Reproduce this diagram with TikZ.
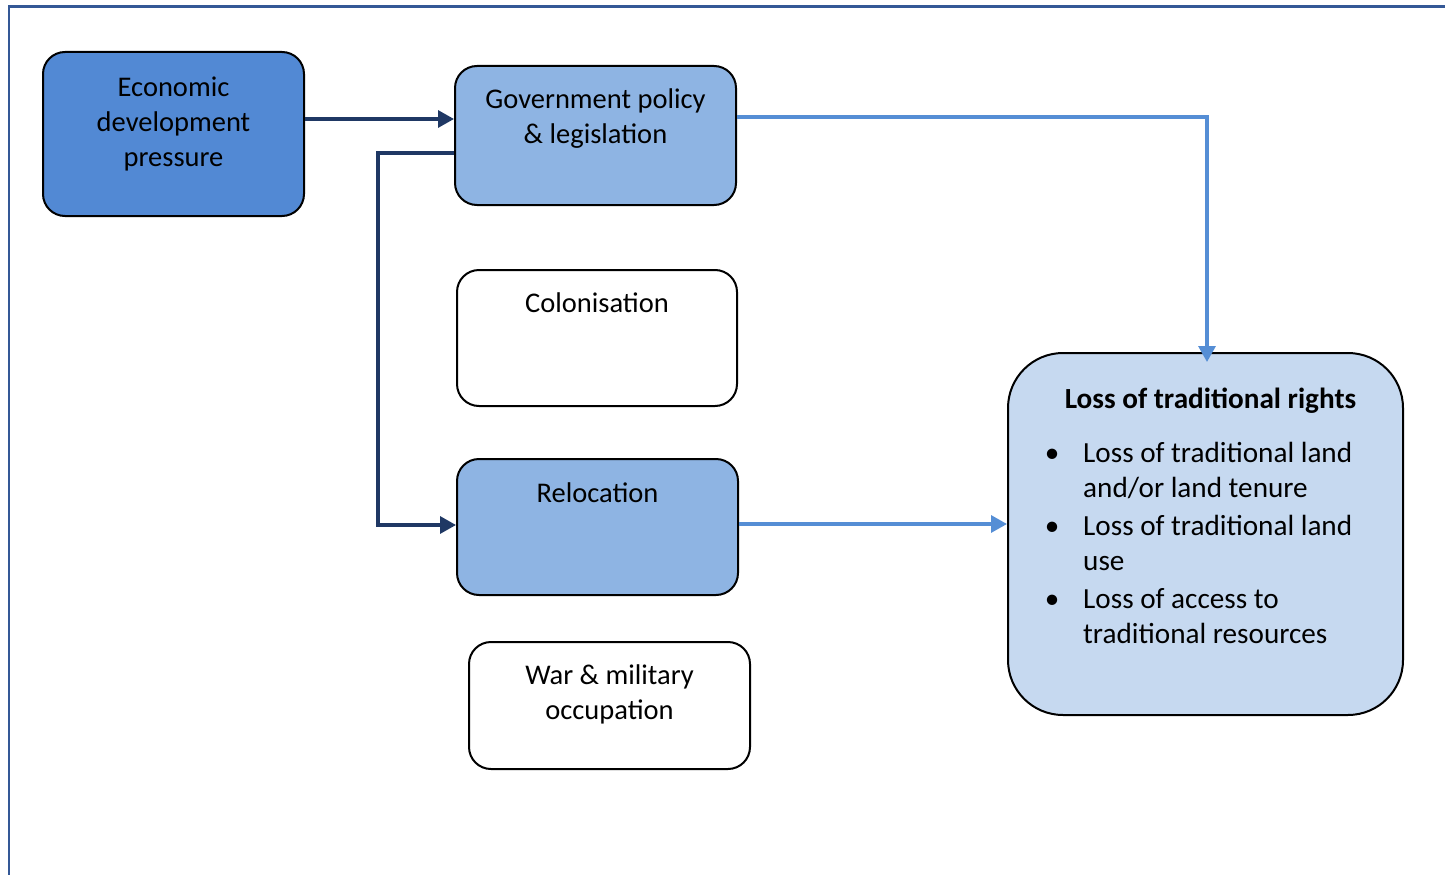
\documentclass[tikz,border=0pt]{standalone}
\usepackage{fontspec}
\setmainfont{Carlito}
\usetikzlibrary{arrows.meta}

\definecolor{framecol}{RGB}{52,88,150}
\definecolor{navy}{RGB}{31,56,100}
\definecolor{linkblue}{RGB}{85,142,213}
\definecolor{darkfill}{RGB}{82,137,212}
\definecolor{midfill}{RGB}{142,180,227}
\definecolor{lightfill}{RGB}{198,217,240}

\tikzset{
  box/.style={draw=black, line width=2pt, rounded corners=22pt, inner sep=0pt},
  boxtext/.style={anchor=north, inner sep=0pt, font=\fontsize{28.5}{35}\selectfont},
  listtext/.style={inner sep=0pt, font=\fontsize{29.2}{35}\selectfont},
  navyarrow/.style={draw=navy, line width=3.2pt, -{Triangle[length=16pt,width=17pt]}},
  bluearrow/.style={draw=linkblue, line width=3.2pt, -{Triangle[length=16pt,width=17pt]}},
}

\begin{document}
\begin{tikzpicture}[x=1pt, y=-1pt]
  \useasboundingbox (0,0) rectangle (1445,875);
  \clip (0,0) rectangle (1445,875);

  % outer frame (continues past the right and bottom edges)
  \draw[framecol, line width=2.5pt] (9,6.5) rectangle (1470,900);

  % boxes
  \node[box, fill=darkfill, minimum width=261pt, minimum height=164pt] (econ) at (173.5,134) {};
  \node[box, fill=midfill,  minimum width=281pt, minimum height=139pt] (gov)  at (595.5,135.5) {};
  \node[box, fill=white,    minimum width=280pt, minimum height=136pt] (colon) at (597,338) {};
  \node[box, fill=midfill,  minimum width=281pt, minimum height=136pt] (reloc) at (597.5,527) {};
  \node[box, fill=white,    minimum width=281pt, minimum height=127pt] (war)  at (609.5,705.5) {};
  \node[box, fill=lightfill, rounded corners=55pt, minimum width=395pt, minimum height=362pt] (loss) at (1205.5,534) {};

  % box texts
  \node[boxtext] (econtxt) at (173.5,71.5) {\begin{tabular}{@{}c@{}}Economic\\development\\pressure\end{tabular}};
  \node[boxtext] (govtxt) at (595.5,83.5) {\begin{tabular}{@{}c@{}}Government policy\\\& legislation\end{tabular}};
  \node[boxtext] (colontxt) at (597,287.5) {\begin{tabular}{@{}c@{}}Colonisation\end{tabular}};
  \node[boxtext] (reloctxt) at (597.5,477.5) {\begin{tabular}{@{}c@{}}Relocation\end{tabular}};
  \node[boxtext] (wartxt) at (609.5,659.5) {\begin{tabular}{@{}c@{}}War \& military\\occupation\end{tabular}};

  \node[listtext, anchor=base, font=\fontsize{29.2}{35}\selectfont\bfseries] (losstitle) at (1210.5,408) {Loss of traditional rights};
  \node[listtext, anchor=north west] (losslist) at (1041,437.5) {%
    \begin{tabular}{@{}l@{\hspace{20pt}}l@{}}
      \makebox[22pt][c]{\textbullet} & Loss of traditional land\\
                                     & and/or land tenure\\[3pt]
      \makebox[22pt][c]{\textbullet} & Loss of traditional land\\
                                     & use\\[3pt]
      \makebox[22pt][c]{\textbullet} & Loss of access to\\
                                     & traditional resources
    \end{tabular}};

  % connectors
  \draw[navyarrow] (econ.east |- 0,119) -- (gov.west |- 0,119);
  \coordinate (split) at (378,153);
  \draw[navyarrow] (gov.west |- split) -- (split) |- (reloc.west |- 0,525);
  \coordinate (bend) at (1207,117);
  \draw[bluearrow] (gov.east |- bend) -- (bend) -- (bend |- 0,362);
  \draw[bluearrow] (reloc.east |- 0,524) -- (loss.west |- 0,524);
\end{tikzpicture}
\end{document}
